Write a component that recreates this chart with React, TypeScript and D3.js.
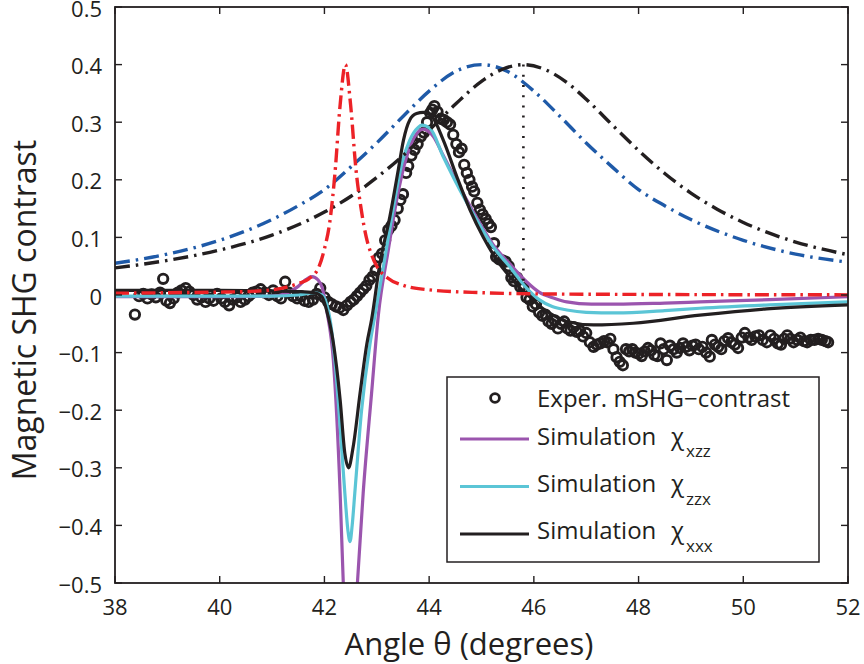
import React from "react";
import * as d3 from "d3";

// ---------- data ----------
const xTicks = [38, 40, 42, 44, 46, 48, 50, 52];
const yTicks = [-0.5, -0.4, -0.3, -0.2, -0.1, 0, 0.1, 0.2, 0.3, 0.4, 0.5];

const expAngle = [
  38.38, 38.46, 38.54, 38.62, 38.70, 38.78, 38.86, 38.92, 38.98, 39.05, 39.12, 39.20, 39.27, 39.35, 39.42, 39.50,
  39.57, 39.65, 39.73, 39.80, 39.88, 39.95, 40.03, 40.10, 40.18, 40.25, 40.33, 40.40, 40.48, 40.55, 40.63, 40.70,
  40.78, 40.86, 40.94, 41.02, 41.10, 41.17, 41.25, 41.32, 41.40, 41.48, 41.55, 41.62, 41.70, 41.78, 41.85, 41.92,
  42.00, 42.07, 42.14, 42.22, 42.29, 42.36, 42.43, 42.50, 42.56, 42.62, 42.68, 42.74, 42.80, 42.86, 42.92, 42.98,
  43.04, 43.10, 43.16, 43.22, 43.28, 43.34, 43.40, 43.45, 43.50, 43.56, 43.60, 43.66, 43.72, 43.78, 43.84, 43.90,
  43.96, 44.02, 44.06, 44.10, 44.16, 44.22, 44.28, 44.34, 44.40, 44.46, 44.52, 44.57, 44.62, 44.67, 44.72, 44.77,
  44.82, 44.86, 44.92, 44.97, 45.02, 45.08, 45.13, 45.18, 45.24, 45.28, 45.34, 45.40, 45.46, 45.52, 45.57, 45.62,
  45.68, 45.74, 45.80, 45.86, 45.92, 45.98, 46.04, 46.10, 46.16, 46.22, 46.28, 46.34, 46.40, 46.46, 46.52, 46.58,
  46.64, 46.70, 46.76, 46.82, 46.88, 46.94, 47.00, 47.07, 47.14, 47.20, 47.27, 47.34, 47.40, 47.46, 47.52, 47.58,
  47.64, 47.70, 47.76, 47.82, 47.88, 47.94, 48.00, 48.06, 48.12, 48.18, 48.24, 48.30, 48.36, 48.42, 48.48, 48.54,
  48.60, 48.67, 48.73, 48.79, 48.85, 48.91, 48.97, 49.03, 49.09, 49.15, 49.22, 49.29, 49.36, 49.40, 49.46, 49.52,
  49.58, 49.64, 49.71, 49.77, 49.84, 49.90, 49.97, 50.03, 50.10, 50.16, 50.23, 50.30, 50.37, 50.45, 50.52, 50.59,
  50.66, 50.72, 50.78, 50.84, 50.90, 50.96, 51.03, 51.09, 51.16, 51.22, 51.29, 51.36, 51.43, 51.50, 51.57, 51.62,
];
const expValue = [
  -0.034, -0.002, 0.002, -0.006, 0.001, -0.004, 0.004, 0.028, -0.010, -0.014, -0.006, 0.004, 0.008, 0.012, 0.006, 0.000,
  -0.008, -0.004, -0.012, -0.006, -0.010, 0.002, -0.006, -0.012, -0.018, -0.008, -0.004, -0.012, -0.008, -0.002, 0.004, 0.006,
  0.010, 0.004, 0.000, 0.008, -0.002, -0.006, 0.023, 0.004, -0.002, -0.006, -0.002, -0.010, -0.012, -0.008, 0.002, 0.012,
  -0.004, -0.012, -0.016, -0.020, -0.022, -0.026, -0.018, -0.012, -0.008, -0.002, 0.004, 0.010, 0.016, 0.026, 0.032, 0.043,
  0.065, 0.072, 0.095, 0.113, 0.120, 0.130, 0.150, 0.165, 0.175, 0.212, 0.224, 0.242, 0.252, 0.262, 0.275, 0.282,
  0.300, 0.316, 0.322, 0.328, 0.318, 0.306, 0.304, 0.300, 0.296, 0.278, 0.262, 0.248, 0.254, 0.226, 0.212, 0.200,
  0.188, 0.180, 0.160, 0.148, 0.140, 0.132, 0.124, 0.118, 0.090, 0.066, 0.062, 0.060, 0.058, 0.050, 0.030, 0.024,
  0.030, 0.014, 0.012, -0.004, -0.008, -0.020, -0.016, -0.030, -0.036, -0.034, -0.046, -0.050, -0.044, -0.058, -0.050, -0.046,
  -0.058, -0.062, -0.056, -0.064, -0.062, -0.072, -0.066, -0.082, -0.090, -0.086, -0.084, -0.080, -0.082, -0.076, -0.094, -0.108,
  -0.116, -0.122, -0.094, -0.098, -0.094, -0.100, -0.102, -0.106, -0.098, -0.092, -0.096, -0.104, -0.106, -0.084, -0.094, -0.113,
  -0.088, -0.094, -0.100, -0.092, -0.084, -0.090, -0.096, -0.088, -0.086, -0.094, -0.090, -0.100, -0.107, -0.078, -0.086, -0.090,
  -0.094, -0.080, -0.075, -0.082, -0.086, -0.092, -0.074, -0.066, -0.074, -0.078, -0.072, -0.070, -0.078, -0.082, -0.070, -0.076,
  -0.084, -0.086, -0.076, -0.070, -0.076, -0.082, -0.078, -0.074, -0.080, -0.082, -0.078, -0.078, -0.076, -0.078, -0.080, -0.082,
];

// Simulation chi_xzz (purple)
const xzzAngle = [38, 40, 41, 41.3, 41.5, 41.65, 41.76, 41.88, 41.96, 42.05, 42.17, 42.3, 42.36, 42.42, 42.48, 42.55, 42.63, 42.74, 42.9, 43.03, 43.22, 43.38, 43.57, 43.76, 43.89, 44.08, 44.27, 44.59, 44.91, 45.22, 45.54, 45.86, 46.1, 46.4, 46.63, 47.1, 47.58, 48.5, 49.17, 50.5, 52];
const xzzValue = [-0.003, -0.003, -0.002, 0.004, 0.015, 0.027, 0.032, 0.026, 0.012, -0.03, -0.113, -0.344, -0.5, -0.62, -0.66, -0.6, -0.5, -0.344, -0.171, -0.035, 0.078, 0.165, 0.24, 0.28, 0.288, 0.275, 0.242, 0.186, 0.134, 0.088, 0.054, 0.023, 0.005, -0.006, -0.012, -0.016, -0.016, -0.014, -0.012, -0.008, -0.003];

// Simulation chi_zzx (cyan)
const zzxAngle = [38, 40, 41, 41.5, 41.8, 41.95, 42.04, 42.12, 42.2, 42.3, 42.39, 42.45, 42.49, 42.53, 42.58, 42.71, 42.87, 42.95, 43.16, 43.32, 43.48, 43.63, 43.79, 43.86, 44.02, 44.27, 44.59, 44.91, 45.22, 45.54, 45.86, 46.1, 46.35, 46.63, 47.0, 47.58, 48.5, 49.17, 50.5, 52];
const zzxValue = [-0.002, -0.002, -0.002, 0.0, 0.004, 0.0, -0.015, -0.05, -0.113, -0.229, -0.344, -0.41, -0.428, -0.4, -0.344, -0.2, -0.085, -0.043, 0.067, 0.153, 0.229, 0.269, 0.291, 0.295, 0.289, 0.24, 0.182, 0.13, 0.084, 0.049, 0.012, -0.008, -0.02, -0.026, -0.03, -0.031, -0.027, -0.023, -0.017, -0.012];

// Simulation chi_xxx (black)
const xxxAngle = [38, 40, 41, 41.5, 41.8, 41.95, 42.04, 42.17, 42.3, 42.39, 42.46, 42.55, 42.68, 42.81, 42.9, 43.06, 43.25, 43.41, 43.51, 43.63, 43.76, 43.89, 44.05, 44.27, 44.53, 44.78, 45.03, 45.29, 45.54, 45.74, 45.98, 46.12, 46.35, 46.63, 47.14, 47.9, 49.17, 50.45, 52];
const xxxValue = [0.008, 0.008, 0.007, 0.006, 0.004, -0.003, -0.026, -0.083, -0.182, -0.275, -0.3, -0.263, -0.171, -0.085, -0.043, 0.055, 0.136, 0.217, 0.269, 0.304, 0.315, 0.317, 0.31, 0.269, 0.205, 0.148, 0.101, 0.061, 0.032, 0.012, -0.008, -0.02, -0.034, -0.046, -0.052, -0.049, -0.035, -0.024, -0.017];

// Broad blue dash-dot resonance
const blueAngle = [38, 39, 40, 41, 41.5, 42, 42.5, 43, 43.5, 44, 44.5, 45, 45.5, 46, 46.5, 47, 47.5, 48, 48.5, 49, 50, 51, 52];
const blueValue = [0.055, 0.071, 0.095, 0.131, 0.155, 0.183, 0.222, 0.264, 0.31, 0.354, 0.388, 0.4, 0.388, 0.354, 0.31, 0.264, 0.222, 0.183, 0.155, 0.131, 0.095, 0.071, 0.057];

// Broad black dash-dot resonance
const blackDDAngle = [38, 39, 40, 41, 42, 42.5, 43, 43.5, 44, 44.5, 45, 45.4, 45.8, 46.2, 46.6, 47, 47.5, 48, 48.5, 49, 49.5, 50, 51, 52];
const blackDDValue = [0.047, 0.06, 0.078, 0.104, 0.144, 0.171, 0.204, 0.242, 0.286, 0.331, 0.371, 0.392, 0.4, 0.392, 0.371, 0.34, 0.295, 0.251, 0.211, 0.177, 0.149, 0.126, 0.092, 0.07];

// Narrow red dash-dot resonance
const redAngle = [38, 39, 40, 40.5, 41, 41.2, 41.5, 41.7, 41.9, 42, 42.1, 42.2, 42.3, 42.4, 42.5, 42.6, 42.7, 42.8, 42.9, 43, 43.2, 43.5, 44, 45, 46, 48, 50, 52];
const redValue = [0.003, 0.004, 0.005, 0.006, 0.009, 0.012, 0.02, 0.028, 0.05, 0.08, 0.125, 0.21, 0.33, 0.4, 0.33, 0.22, 0.15, 0.1, 0.07, 0.05, 0.03, 0.017, 0.009, 0.004, 0.002, 0.001, 0.0005, 0.0003];

// Dotted marker at the black resonance
const markerAngle = [45.8, 45.8];
const markerValue = [0.4, 0.0];

// ---------- layout ----------
const W = 864, H = 664;
const L = 115, R = 848, T = 7, B = 583;
const FONT = "'Open Sans', 'Noto Sans', sans-serif";
const INK = "#231f20";

const x = d3.scaleLinear().domain([38, 52]).range([L, R]);
const y = d3.scaleLinear().domain([-0.5, 0.5]).range([B, T]);

function pathOf(xs: number[], ys: number[], curve = d3.curveMonotoneX) {
  const pts = xs.map((a, i) => [a, ys[i]] as [number, number]);
  return d3.line<[number, number]>().x(d => x(d[0])).y(d => y(d[1])).curve(curve)(pts) || "";
}

const fmtY = (v: number) => {
  if (Math.abs(v) < 1e-9) return "0";
  const s = Math.abs(v).toFixed(1);
  return (v < 0 ? "\u2212" : "") + s;
};

export default function App() {
  const tick = 7;
  return (
    <svg width={W} height={H} viewBox={`0 0 ${W} ${H}`}
      style={{ position: "fixed", left: 0, top: 0, background: "#fff" }}
      fontFamily={FONT}>
      <defs>
        <clipPath id="plot"><rect x={L} y={T} width={R - L} height={B - T} /></clipPath>
      </defs>
      <rect x={0} y={0} width={W} height={H} fill="#fff" />

      <g clipPath="url(#plot)">
        {/* experimental circles */}
        {expAngle.map((a, i) => (
          <circle key={i} cx={x(a)} cy={y(expValue[i])} r={4.7} fill="none" stroke={INK} strokeWidth={2.9} />
        ))}
        {/* simulations */}
        <path d={pathOf(xzzAngle, xzzValue)} fill="none" stroke="#9b55ae" strokeWidth={3.2} />
        <path d={pathOf(zzxAngle, zzxValue)} fill="none" stroke="#5bc5d6" strokeWidth={3.2} />
        <path d={pathOf(xxxAngle, xxxValue)} fill="none" stroke={INK} strokeWidth={3.2} />
        {/* resonances */}
        <path d={pathOf(blueAngle, blueValue)} fill="none" stroke="#1f5aa8" strokeWidth={3.4} strokeDasharray="15 6 2.5 6" />
        <path d={pathOf(blackDDAngle, blackDDValue)} fill="none" stroke={INK} strokeWidth={3.4} strokeDasharray="15 6 2.5 6" />
        <path d={pathOf(redAngle, redValue)} fill="none" stroke="#ec2227" strokeWidth={3.4} strokeDasharray="14 5 2.5 5" />
        <line x1={x(markerAngle[0])} x2={x(markerAngle[1])} y1={y(markerValue[0])} y2={y(markerValue[1])}
          stroke={INK} strokeWidth={2.6} strokeDasharray="2 8.2" />
      </g>

      {/* axes box */}
      <rect x={L} y={T} width={R - L} height={B - T} fill="none" stroke={INK} strokeWidth={1.8} />
      {xTicks.map(t => (
        <g key={"x" + t}>
          <line x1={x(t)} x2={x(t)} y1={B} y2={B - tick} stroke={INK} strokeWidth={1.4} />
          <line x1={x(t)} x2={x(t)} y1={T} y2={T + tick} stroke={INK} strokeWidth={1.4} />
          <text x={x(t)} y={615} textAnchor="middle" fontSize={22} fill={INK}>{t}</text>
        </g>
      ))}
      {yTicks.map(t => (
        <g key={"y" + t}>
          <line x1={L} x2={L + tick} y1={y(t)} y2={y(t)} stroke={INK} strokeWidth={1.4} />
          <line x1={R} x2={R - tick} y1={y(t)} y2={y(t)} stroke={INK} strokeWidth={1.4} />
          <text x={102} y={y(t) + 9.5} textAnchor="end" fontSize={22} fill={INK}>{fmtY(t)}</text>
        </g>
      ))}

      {/* axis titles */}
      <text x={469} y={655} textAnchor="middle" fontSize={31} fill={INK}>Angle {"\u03b8"} (degrees)</text>
      <text transform={`translate(36,310) rotate(-90)`} textAnchor="middle" fontSize={32} fill={INK}>Magnetic SHG contrast</text>

      {/* legend */}
      <g>
        <rect x={447} y={377} width={372} height={185} fill="#fff" stroke={INK} strokeWidth={1.5} />
        <circle cx={495} cy={398} r={4.4} fill="none" stroke={INK} strokeWidth={2.8} />
        <text x={537} y={407} fontSize={24} fill={INK}>Exper. mSHG{"\u2212"}contrast</text>

        <line x1={460} x2={529} y1={439} y2={439} stroke="#9b55ae" strokeWidth={3} />
        <text x={537} y={445} fontSize={24} fill={INK}>Simulation</text>
        <text x={671} y={445} fontSize={24} fill={INK}>{"\u03c7"}</text>
        <text x={686} y={457} fontSize={17} fill={INK}>xzz</text>

        <line x1={460} x2={529} y1={486.5} y2={486.5} stroke="#5bc5d6" strokeWidth={3} />
        <text x={537} y={492} fontSize={24} fill={INK}>Simulation</text>
        <text x={671} y={492} fontSize={24} fill={INK}>{"\u03c7"}</text>
        <text x={686} y={505} fontSize={17} fill={INK}>zzx</text>

        <line x1={460} x2={529} y1={534} y2={534} stroke={INK} strokeWidth={3} />
        <text x={537} y={538.5} fontSize={24} fill={INK}>Simulation</text>
        <text x={671} y={538.5} fontSize={24} fill={INK}>{"\u03c7"}</text>
        <text x={686} y={552} fontSize={17} fill={INK}>xxx</text>
      </g>
    </svg>
  );
}
